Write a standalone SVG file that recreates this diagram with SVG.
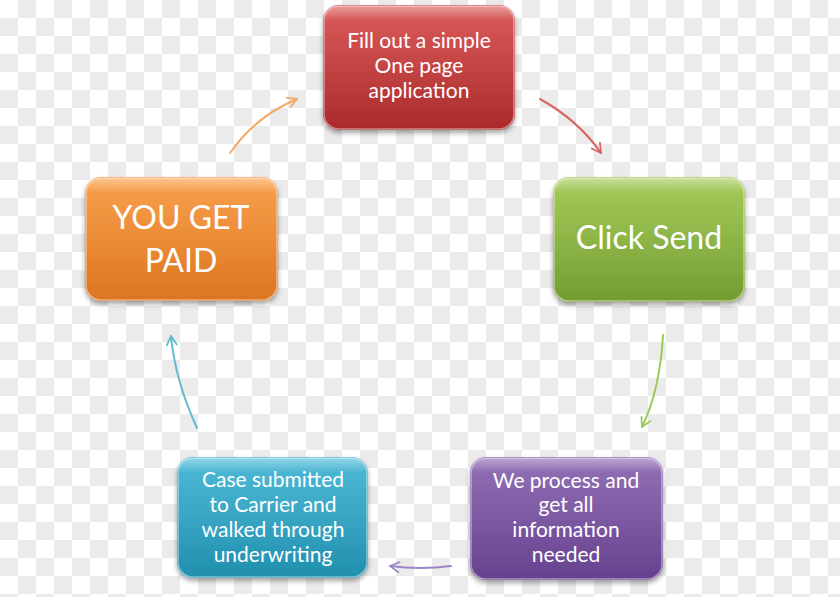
<svg xmlns="http://www.w3.org/2000/svg" width="840" height="597" viewBox="0 0 840 597">
<defs>
<pattern id="chk" x="0" y="0" width="36" height="36" patternUnits="userSpaceOnUse">
<rect width="36" height="36" fill="#ffffff"/>
<rect x="18" y="0" width="18" height="18" fill="#ebebeb"/>
<rect x="0" y="18" width="18" height="18" fill="#ebebeb"/>
</pattern>
<linearGradient id="gRed" x1="0" y1="0" x2="0" y2="1"><stop offset="0" stop-color="#d74b4b"/><stop offset="1" stop-color="#aa2a2a"/></linearGradient>
<linearGradient id="gGreen" x1="0" y1="0" x2="0" y2="1"><stop offset="0" stop-color="#9cc649"/><stop offset="1" stop-color="#749c32"/></linearGradient>
<linearGradient id="gOrange" x1="0" y1="0" x2="0" y2="1"><stop offset="0" stop-color="#f8973a"/><stop offset="1" stop-color="#dc7520"/></linearGradient>
<linearGradient id="gPurple" x1="0" y1="0" x2="0" y2="1"><stop offset="0" stop-color="#8762ae"/><stop offset="1" stop-color="#66418e"/></linearGradient>
<linearGradient id="gTeal" x1="0" y1="0" x2="0" y2="1"><stop offset="0" stop-color="#3db3d3"/><stop offset="1" stop-color="#218fae"/></linearGradient>
<linearGradient id="gloss" x1="0" y1="0" x2="0" y2="1"><stop offset="0" stop-color="#ffffff" stop-opacity="0.45"/><stop offset="0.12" stop-color="#ffffff" stop-opacity="0.08"/><stop offset="1" stop-color="#ffffff" stop-opacity="0"/></linearGradient>
<filter id="sh" x="-10%" y="-10%" width="120%" height="130%"><feDropShadow dx="0" dy="3" stdDeviation="2.5" flood-color="#000" flood-opacity="0.35"/></filter>
<marker id="ah" viewBox="0 0 12 12" refX="10" refY="6" markerWidth="12" markerHeight="12" markerUnits="userSpaceOnUse" orient="auto"><path d="M1,1 L10,6 L1,11" fill="none" stroke="context-stroke" stroke-width="1.8" stroke-linecap="round" stroke-linejoin="round"/></marker>
</defs>
<style>
.box{filter:url(#sh);}
.hl{fill:url(#gloss);stroke:#ffffff;stroke-opacity:0.45;stroke-width:1.5;}
.t{font-family:Lato,"Liberation Sans",sans-serif;fill:#ffffff;text-anchor:middle;}
.s{font-size:21px;}
.l{font-size:32px;}
.c{fill:none;stroke-width:2;stroke-linecap:round;marker-end:url(#ah);}
</style>
<rect width="840" height="597" fill="url(#chk)"/>
<g id="connectors">
<path class="c" d="M230,153 Q256,116 297,99" stroke="#f6a866"/>
<path class="c" d="M540,99 Q578,120 601,153" stroke="#d96464"/>
<path class="c" d="M663,335 Q660,390 642,427" stroke="#9dc95a"/>
<path class="c" d="M451,566 Q420,570 390,566" stroke="#9c84c8"/>
<path class="c" d="M197,428 Q175,380 171,336" stroke="#62b9d2"/>
</g>
<g id="node-fill">
<rect class="box" x="323" y="5" width="192" height="125" rx="16" fill="url(#gRed)"/>
<rect class="hl" x="324" y="6" width="190" height="123" rx="15"/>
<text class="t s" x="419" y="48">Fill out a simple</text>
<text class="t s" x="419" y="73">One page</text>
<text class="t s" x="419" y="98">application</text>
</g>
<g id="node-click">
<rect class="box" x="553" y="177" width="192" height="125" rx="16" fill="url(#gGreen)"/>
<rect class="hl" x="554" y="178" width="190" height="123" rx="15"/>
<text class="t l" x="649" y="249">Click Send</text>
</g>
<g id="node-process">
<rect class="box" x="470" y="457" width="193" height="123" rx="16" fill="url(#gPurple)"/>
<rect class="hl" x="471" y="458" width="191" height="121" rx="15"/>
<text class="t s" x="566" y="488">We process and</text>
<text class="t s" x="566" y="512">get all</text>
<text class="t s" x="566" y="537">information</text>
<text class="t s" x="566" y="562">needed</text>
</g>
<g id="node-case">
<rect class="box" x="177" y="457" width="191" height="121" rx="16" fill="url(#gTeal)"/>
<rect class="hl" x="178" y="458" width="189" height="119" rx="15"/>
<text class="t s" x="273" y="487">Case submitted</text>
<text class="t s" x="273" y="512">to Carrier and</text>
<text class="t s" x="273" y="537">walked through</text>
<text class="t s" x="273" y="562">underwriting</text>
</g>
<g id="node-paid">
<rect class="box" x="85" y="177" width="193" height="124" rx="16" fill="url(#gOrange)"/>
<rect class="hl" x="86" y="178" width="191" height="122" rx="15"/>
<text class="t l" x="181" y="229">YOU GET</text>
<text class="t l" x="181" y="272">PAID</text>
</g>
</svg>
